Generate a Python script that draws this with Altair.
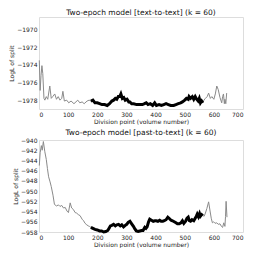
import altair as alt
import pandas as pd

# Top panel: text-to-text
top_x = [1, 4, 7, 10, 13, 17, 20, 25, 30, 37, 42, 47, 54, 60, 66, 72, 78, 82, 87, 95, 102, 110, 120, 133, 140, 148, 155, 165, 172,
         178, 185, 192, 200, 208, 216, 225, 234, 242, 250, 256, 262, 267, 272, 277, 281, 286, 291, 296, 302, 308, 312, 318, 325,
         335, 345, 355, 362, 368, 374, 382, 390, 397, 403, 412, 420, 428, 436, 444, 452, 462, 470, 478, 486, 492, 500, 506, 512,
         515, 520, 526, 531, 536, 541, 546, 550, 554, 558, 562,
         566, 571, 577, 582, 588, 593, 600, 605, 610, 615, 621, 627, 630, 633, 636, 638, 641, 644]
top_y = [-1973.5, -1976.9, -1975.2, -1974.1, -1975.0, -1977.8, -1978.0, -1977.6, -1977.9, -1976.4, -1977.8, -1977.6, -1977.3,
         -1977.9, -1977.6, -1978.0, -1977.8, -1977.0, -1978.1, -1978.0, -1978.3, -1978.1, -1978.4, -1978.0, -1978.3, -1978.2,
         -1978.4, -1978.1, -1978.0,
         -1978.1, -1978.0, -1978.3, -1978.3, -1978.4, -1978.5, -1978.5, -1978.6, -1978.4, -1978.1, -1978.0, -1977.8, -1977.9,
         -1977.6, -1977.6, -1977.3, -1977.8, -1977.7, -1978.0, -1977.9, -1978.2, -1978.2, -1978.4, -1978.4, -1978.5, -1978.5,
         -1978.5, -1978.4, -1978.3, -1978.5, -1978.4, -1978.6, -1978.3, -1978.6, -1978.5, -1978.6, -1978.5, -1978.4, -1978.5,
         -1978.6, -1978.6, -1978.5, -1978.4, -1978.3, -1978.2, -1978.0, -1977.8, -1977.9, -1977.6, -1977.8, -1977.6, -1977.9,
         -1977.6, -1977.9, -1978.1, -1977.8, -1978.3, -1978.1, -1978.3,
         -1978.0, -1977.8, -1977.6, -1977.2, -1977.8, -1977.6, -1977.9, -1977.3, -1976.4, -1976.8, -1977.7, -1978.3, -1977.6,
         -1977.3, -1978.4, -1977.9, -1978.4, -1977.2]

# Bottom panel: past-to-text
bot_x = [1, 4, 8, 11, 15, 20, 25, 29, 33, 38, 42, 48, 53, 60, 67, 72, 78, 84, 90, 96, 101, 107, 112, 118, 124, 129, 135, 141,
         148, 153, 158, 164, 169, 173,
         178, 185, 192, 200, 208, 215, 222, 229, 236, 241, 245, 250, 256, 262, 267, 273, 279, 284, 290, 296, 301, 306, 312,
         318, 324, 329, 334, 340, 346, 352, 357, 363, 367, 371, 376, 380, 386, 392, 398, 402, 408, 414, 419, 425, 430, 436,
         442, 448, 453, 458, 464, 470, 475, 481, 487, 492, 497, 503, 508, 512, 516, 520, 525, 531, 536, 540, 543, 547, 551,
         554, 558, 562,
         567, 571, 576, 582, 587, 591, 595, 599, 604, 610, 615, 621, 626, 630, 634, 638, 640, 642, 645]
bot_y = [-945.0, -942.5, -941.1, -942.0, -940.3, -942.3, -943.8, -945.6, -947.2, -948.2, -949.1, -950.8, -952.6, -952.9,
         -952.7, -953.0, -952.8, -953.3, -953.2, -953.9, -954.2, -952.3, -953.3, -953.6, -954.2, -954.3, -954.6, -954.8,
         -955.5, -955.8, -956.3, -956.6, -956.8, -956.9,
         -957.1, -957.3, -957.5, -957.6, -957.8, -957.8, -958.0, -957.9, -957.7, -957.2, -956.8, -956.7, -956.5, -956.8,
         -956.6, -956.5, -956.8, -956.6, -957.0, -956.7, -956.5, -956.1, -955.9, -956.4, -956.9, -957.4, -957.8, -957.9,
         -957.8, -957.7, -957.7, -957.1, -957.3, -957.0, -956.0, -955.5, -955.7, -955.9, -955.8, -955.8, -955.9, -955.7,
         -955.9, -955.9, -955.8, -955.6, -955.1, -955.4, -955.7, -955.8, -956.0, -956.2, -956.4, -956.4, -956.2, -955.8,
         -956.3, -955.9, -955.3, -955.1, -955.8, -955.9, -955.6, -955.8, -955.3, -954.9, -954.5, -955.0, -954.4, -954.9,
         -954.6, -954.8,
         -954.9, -954.3, -953.4, -952.1, -953.9, -955.3, -956.2, -956.0, -956.3, -956.2, -956.5, -956.4, -956.9, -957.1,
         -956.2, -956.9, -955.0, -952.0, -955.1]

black_start, black_end = 175, 562

top_df = pd.DataFrame({"x": top_x, "y": top_y})
bot_df = pd.DataFrame({"x": bot_x, "y": bot_y})

FONT = "DejaVu Sans"


def panel(df, title, ydomain, yticks):
    xs = alt.X("x:Q", scale=alt.Scale(domain=[0, 700], nice=False),
               axis=alt.Axis(values=[0, 100, 200, 300, 400, 500, 600, 700], title="Division point (volume number)",
                             grid=False, tickSize=0, labelPadding=2, titlePadding=1, domain=False,
                             labelFontSize=6, titleFontSize=6, labelFont=FONT, titleFont=FONT,
                             labelColor="#222", titleColor="#222", titleFontWeight="normal"))
    ys = alt.Y("y:Q", scale=alt.Scale(domain=ydomain, nice=False, zero=False),
               axis=alt.Axis(values=yticks, title="LogL of split", grid=False, tickSize=0, labelPadding=2,
                             titlePadding=2, domain=False, labelFontSize=6, titleFontSize=6,
                             labelFont=FONT, titleFont=FONT, labelColor="#222", titleColor="#222",
                             titleFontWeight="normal", format="d"))
    grey = alt.Chart(df).mark_line(color="#8a8a8a", strokeWidth=1).encode(x=xs, y=ys)
    black = alt.Chart(df).transform_filter(
        (alt.datum.x >= black_start) & (alt.datum.x <= black_end)
    ).mark_line(color="black", strokeWidth=3).encode(x=xs, y=ys)
    return alt.layer(grey, black).properties(
        width=204, height=92,
        title=alt.TitleParams(title, fontSize=7.5, font=FONT, fontWeight="normal", offset=1, color="#111"),
    )


top = panel(top_df, "Two-epoch model [text-to-text] (k = 60)", [-1979, -1968.6],
            [-1970, -1972, -1974, -1976, -1978])
bot = panel(bot_df, "Two-epoch model [past-to-text] (k = 60)", [-958, -940],
            [-940, -942, -944, -946, -948, -950, -952, -954, -956, -958])

chart = alt.vconcat(top, bot, spacing=3).properties(
    padding=0
).configure_view(stroke="black", strokeWidth=0.8).configure(background="white")

chart.save("out.html", embed_options={"renderer": "svg", "actions": False})
